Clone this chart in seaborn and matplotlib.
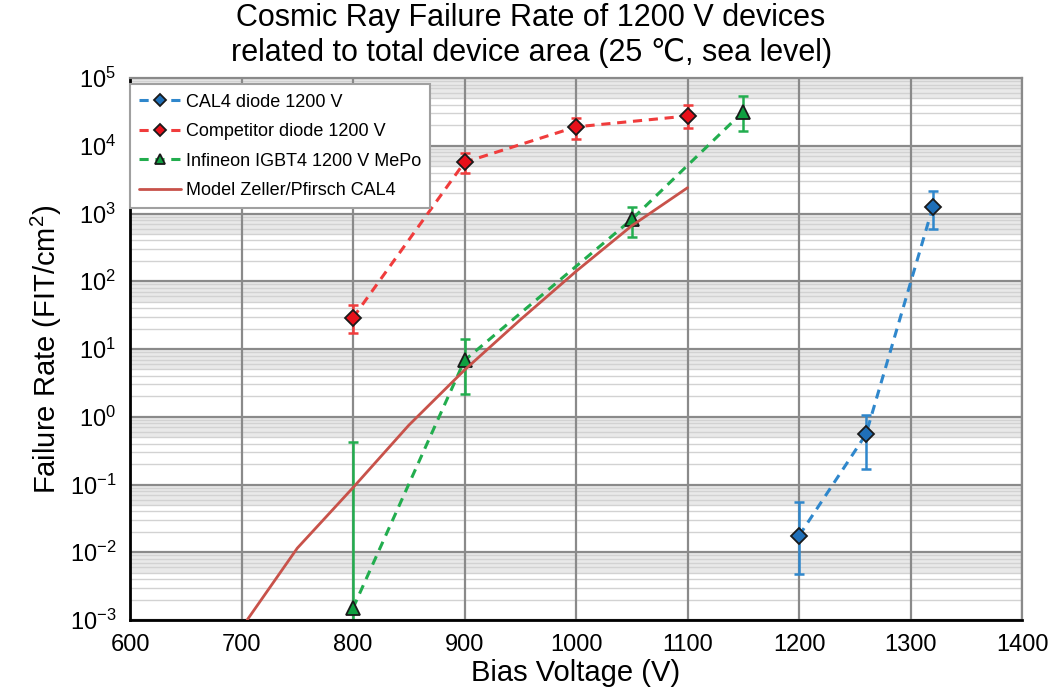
import numpy as np
import pandas as pd
import matplotlib
matplotlib.use("Agg")
import matplotlib.pyplot as plt
import seaborn as sns

# ---- data -------------------------------------------------------------
cal4_v = [1200, 1260, 1320]
cal4_fr = [0.0175, 0.55, 1250]
cal4_lo = [0.0048, 0.17, 590]
cal4_hi = [0.055, 1.05, 2150]

comp_v = [800, 900, 1000, 1100]
comp_fr = [29, 5700, 19000, 27500]
comp_lo = [17, 3900, 12500, 18000]
comp_hi = [44, 7800, 26000, 40000]

igbt_v = [800, 900, 1050, 1150]
igbt_fr = [0.0015, 6.8, 820, 32000]
igbt_lo = [0.0003, 2.2, 450, 16500]
igbt_hi = [0.42, 14, 1250, 54000]

model_v = [705, 750, 800, 850, 900, 950, 1000, 1050, 1100]
model_fr = [0.001, 0.0115, 0.09, 0.75, 4.9, 27, 140, 660, 2400]

x_ticks = [600, 700, 800, 900, 1000, 1100, 1200, 1300, 1400]
y_exponents = [-3, -2, -1, 0, 1, 2, 3, 4, 5]

# ---- style ------------------------------------------------------------
sns.set_theme(style="white")
plt.rcParams["font.family"] = ["Liberation Sans", "DejaVu Sans"]
plt.rcParams["mathtext.fontset"] = "custom"
plt.rcParams["mathtext.rm"] = "Liberation Sans"
plt.rcParams["mathtext.it"] = "Liberation Sans"
plt.rcParams["mathtext.bf"] = "Liberation Sans"
plt.rcParams["text.color"] = "black"
plt.rcParams["axes.labelcolor"] = "black"
plt.rcParams["xtick.color"] = "black"
plt.rcParams["ytick.color"] = "black"

fig = plt.figure(figsize=(10.58, 6.89), dpi=100)
ax = fig.add_axes([0.1229, 0.1001, 0.9660 - 0.1229, 0.8868 - 0.1001])
ax.set_yscale("log")
ax.set_xlim(600, 1400)
ax.set_ylim(1e-3, 1e5)

# decade shading and grid
for k in range(-3, 5):
    ax.axhspan(5 * 10.0**k, 10.0 ** (k + 1), color="#e9e9e9", lw=0, zorder=0)
for k in range(-3, 5):
    for m in range(2, 10):
        ax.axhline(m * 10.0**k, color="#d2d2d2", lw=1.0, zorder=0.5)
for e in y_exponents:
    ax.axhline(10.0**e, color="#8a8a8a", lw=1.6, zorder=0.6)
for xv in x_ticks:
    ax.axvline(xv, color="#8a8a8a", lw=1.6, zorder=0.6)

dash = (0, (3.0, 2.2))
blue = "#2f87cc"
red = "#f03c3c"
green = "#22ad4e"
model_col = "#c8524a"


def err(ax, v, fr, lo, hi, col):
    fr = np.asarray(fr)
    yerr = [fr - np.asarray(lo), np.asarray(hi) - fr]
    ax.errorbar(v, fr, yerr=yerr, fmt="none", ecolor=col, elinewidth=1.8,
                capsize=3.5, capthick=1.8, zorder=2)


err(ax, cal4_v, cal4_fr, cal4_lo, cal4_hi, blue)
err(ax, comp_v, comp_fr, comp_lo, comp_hi, red)
err(ax, igbt_v, igbt_fr, igbt_lo, igbt_hi, green)

df_cal4 = pd.DataFrame({"V": cal4_v, "FR": cal4_fr})
df_comp = pd.DataFrame({"V": comp_v, "FR": comp_fr})
df_igbt = pd.DataFrame({"V": igbt_v, "FR": igbt_fr})
df_model = pd.DataFrame({"V": model_v, "FR": model_fr})

sns.lineplot(data=df_cal4, x="V", y="FR", ax=ax, color=blue, lw=2.2,
             linestyle=dash, marker="D", markersize=8.5, markerfacecolor="#1f6fb8",
             markeredgecolor="#1a1a1a", markeredgewidth=1.3,
             label="CAL4 diode 1200 V", zorder=3)
sns.lineplot(data=df_comp, x="V", y="FR", ax=ax, color=red, lw=2.2,
             linestyle=dash, marker="D", markersize=8.5, markerfacecolor="#e8101a",
             markeredgecolor="#1a1a1a", markeredgewidth=1.3,
             label="Competitor diode 1200 V", zorder=3)
sns.lineplot(data=df_igbt, x="V", y="FR", ax=ax, color=green, lw=2.2,
             linestyle=dash, marker="^", markersize=9.5, markerfacecolor="#0fa040",
             markeredgecolor="#1a1a1a", markeredgewidth=1.3,
             label="Infineon IGBT4 1200 V MePo", zorder=3)
sns.lineplot(data=df_model, x="V", y="FR", ax=ax, color=model_col, lw=2.0,
             label="Model Zeller/Pfirsch CAL4", zorder=3)

# ---- axes -------------------------------------------------------------
ax.set_xticks(x_ticks)
ax.set_xticklabels([str(v) for v in x_ticks], fontsize=17)
ax.set_yticks([10.0**e for e in y_exponents])
ax.set_yticklabels([r"10$^{%d}$" % e for e in y_exponents], fontsize=17)
ax.yaxis.set_minor_locator(matplotlib.ticker.NullLocator())
ax.tick_params(axis="both", which="major", length=5, width=1.5, color="black",
               labelcolor="black", direction="out", pad=5)

ax.set_xlabel("Bias Voltage (V)", fontsize=21, labelpad=2)
ax.set_ylabel(r"Failure Rate (FIT/cm$^{2}$)", fontsize=21, labelpad=4)
fig.suptitle("Cosmic Ray Failure Rate of 1200 V devices\n"
             "related to total device area (25 \u2103, sea level)",
             fontsize=22, x=0.502, y=0.995, va="top", linespacing=1.18)

for side in ["left", "bottom"]:
    ax.spines[side].set_color("black")
    ax.spines[side].set_linewidth(2.0)
for side in ["top", "right"]:
    ax.spines[side].set_color("#8a8a8a")
    ax.spines[side].set_linewidth(1.6)

leg = ax.legend(loc="upper left", bbox_to_anchor=(0.0, 0.988), borderaxespad=0,
                fontsize=13, frameon=True, fancybox=False, edgecolor="#a0a0a0",
                framealpha=1.0, handlelength=2.3, borderpad=0.5,
                labelspacing=0.7, handletextpad=0.3, markerscale=0.75)
leg.get_frame().set_linewidth(1.5)
leg.set_zorder(5)
for t in leg.get_texts():
    t.set_color("black")

fig.savefig("out.png", dpi=100)
